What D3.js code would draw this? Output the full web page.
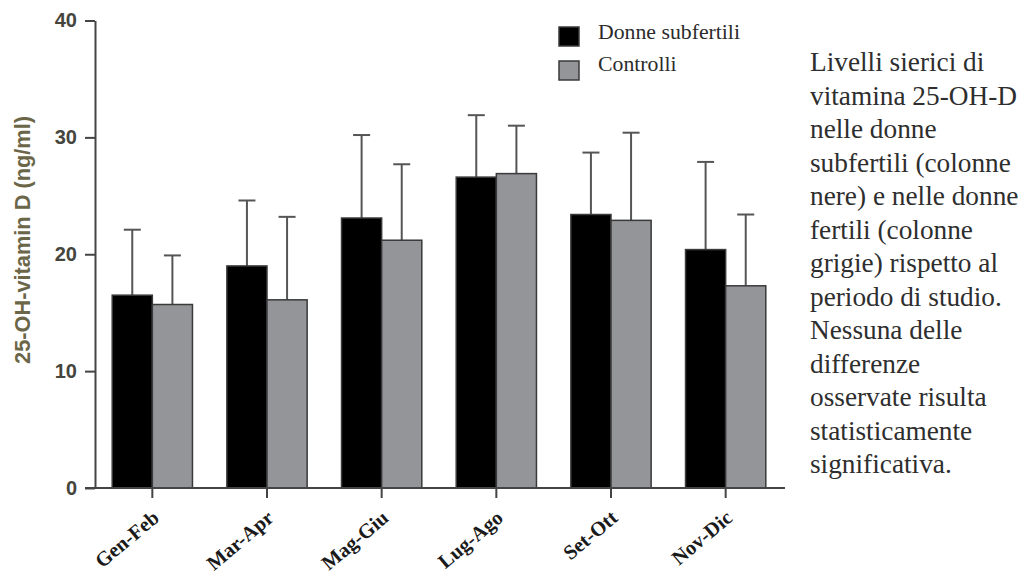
<!DOCTYPE html>
<html>
<head>
<meta charset="utf-8">
<script src="https://cdn.jsdelivr.net/npm/d3@7"></script>
<style>
  body { margin: 0; background: #ffffff; }
  svg { display: block; }
</style>
</head>
<body>
<svg id="chart" width="1023" height="574"></svg>
<script>
// Serum 25-OH vitamin D by two-month period: subfertile women vs controls (mean + SD)
const periods = ["Gen-Feb", "Mar-Apr", "Mag-Giu", "Lug-Ago", "Set-Ott", "Nov-Dic"];
const seriesNames = ["Donne subfertili", "Controlli"];
const subfertileMean = [16.5, 19.0, 23.1, 26.6, 23.4, 20.4];
const subfertileSD   = [5.6, 5.6, 7.1, 5.3, 5.3, 7.5];
const controlMean    = [15.7, 16.1, 21.2, 26.9, 22.9, 17.3];
const controlSD      = [4.2, 7.1, 6.5, 4.1, 7.5, 6.1];
const yTicks = [0, 10, 20, 30, 40];
const yTitle = "25-OH-vitamin D (ng/ml)";
const captionLines = [
  "Livelli sierici di",
  "vitamina 25-OH-D",
  "nelle donne",
  "subfertili (colonne",
  "nere) e nelle donne",
  "fertili (colonne",
  "grigie) rispetto al",
  "periodo di studio.",
  "Nessuna delle",
  "differenze",
  "osservate risulta",
  "statisticamente",
  "significativa."
];

const seriesFill = ["#000000", "#939598"];
const outline = "#3a3a3a";

const svg = d3.select("#chart");

// Scale text so that it spans a given width
function fitWidth(sel, target) {
  const base = parseFloat(sel.attr("font-size"));
  const w = sel.node().getComputedTextLength();
  sel.attr("font-size", (base * target / w).toFixed(2));
}

const rows = periods.map((p, i) => ({
  period: p,
  values: [
    { s: 0, mean: subfertileMean[i], sd: subfertileSD[i] },
    { s: 1, mean: controlMean[i], sd: controlSD[i] }
  ]
}));

const x0 = d3.scaleBand().domain(periods).range([95, 783])
  .paddingInner(0.3).paddingOuter(0.15);
const x1 = d3.scaleBand().domain([0, 1]).range([0, x0.bandwidth()]);
const y = d3.scaleLinear().domain([0, 40]).range([488, 20.5]);

const plot = svg.append("g");

const groups = plot.selectAll("g.group").data(rows).join("g")
  .attr("class", "group")
  .attr("transform", d => `translate(${x0(d.period)},0)`);

// error bars (mean to mean + SD)
const capHalf = 8.5;
groups.selectAll("line.err").data(d => d.values).join("line")
  .attr("class", "err")
  .attr("x1", d => x1(d.s) + x1.bandwidth() / 2)
  .attr("x2", d => x1(d.s) + x1.bandwidth() / 2)
  .attr("y1", d => y(d.mean))
  .attr("y2", d => y(d.mean + d.sd))
  .attr("stroke", "#555").attr("stroke-width", 2);
groups.selectAll("line.cap").data(d => d.values).join("line")
  .attr("class", "cap")
  .attr("x1", d => x1(d.s) + x1.bandwidth() / 2 - capHalf)
  .attr("x2", d => x1(d.s) + x1.bandwidth() / 2 + capHalf)
  .attr("y1", d => y(d.mean + d.sd))
  .attr("y2", d => y(d.mean + d.sd))
  .attr("stroke", "#555").attr("stroke-width", 2);

// bars
groups.selectAll("rect").data(d => d.values).join("rect")
  .attr("x", d => x1(d.s))
  .attr("width", x1.bandwidth())
  .attr("y", d => y(d.mean))
  .attr("height", d => y(0) - y(d.mean))
  .attr("fill", d => seriesFill[d.s])
  .attr("stroke", outline).attr("stroke-width", 1.5);

// y axis
const yAxis = svg.append("g")
  .attr("transform", `translate(95,0)`)
  .call(d3.axisLeft(y).tickValues(yTicks).tickSize(10).tickSizeOuter(0).tickPadding(8));
yAxis.select(".domain").attr("stroke", "#444").attr("stroke-width", 2);
yAxis.selectAll(".tick line").attr("stroke", "#444").attr("stroke-width", 2);
yAxis.selectAll(".tick text")
  .attr("font-family", "'Liberation Sans', Arial, sans-serif")
  .attr("font-weight", "bold").attr("font-size", 20)
  .attr("fill", "#45453d");

// x axis
const xAxis = svg.append("g")
  .attr("transform", `translate(0,${y(0)})`)
  .call(d3.axisBottom(x0).tickSize(10).tickSizeOuter(0).tickFormat(""));
xAxis.select(".domain").attr("stroke", "#444").attr("stroke-width", 2)
  .attr("d", `M85,0H785`);
xAxis.selectAll(".tick line").attr("stroke", "#444").attr("stroke-width", 2);

// rotated period labels
const xLabels = svg.append("g").selectAll("text").data(periods).join("text")
  .attr("transform", d => `translate(${x0(d) + x0.bandwidth() / 2 + 8},${y(0) + 32}) rotate(-40)`)
  .attr("text-anchor", "end")
  .attr("font-family", "'Liberation Serif', 'Times New Roman', serif")
  .attr("font-weight", "bold").attr("font-size", 16)
  .attr("fill", "#1a1a1a")
  .text(d => d);
fitWidth(xLabels.filter((d, i) => i === 0), 76);
xLabels.attr("font-size", xLabels.filter((d, i) => i === 0).attr("font-size"));

// y axis title
const yt = svg.append("text")
  .attr("transform", "translate(30,240) rotate(-90)")
  .attr("text-anchor", "middle")
  .attr("font-family", "'Liberation Sans', Arial, sans-serif")
  .attr("font-weight", "bold").attr("font-size", 18)
  .attr("fill", "#6b6648")
  .text(yTitle);
fitWidth(yt, 248);

// legend
const legend = svg.append("g");
seriesNames.forEach((name, i) => {
  legend.append("rect")
    .attr("x", 559).attr("y", 27 + i * 34)
    .attr("width", 20).attr("height", 19)
    .attr("fill", seriesFill[i])
    .attr("stroke", outline).attr("stroke-width", 1.5);
});
const legendText = legend.selectAll("text").data(seriesNames).join("text")
  .attr("x", 598).attr("y", (d, i) => 39 + i * 32)
  .attr("font-family", "'Liberation Serif', 'Times New Roman', serif")
  .attr("font-size", 18).attr("fill", "#2b2b2b")
  .text(d => d);
fitWidth(legendText.filter((d, i) => i === 0), 142);
legendText.attr("font-size", legendText.filter((d, i) => i === 0).attr("font-size"));

// caption
const caption = svg.append("g").selectAll("text").data(captionLines).join("text")
  .attr("x", 810).attr("y", (d, i) => 71 + i * 33.5)
  .attr("font-family", "'Liberation Serif', 'Times New Roman', serif")
  .attr("font-size", 24).attr("fill", "#2e2e2e")
  .text(d => d);
fitWidth(caption.filter((d, i) => i === 1), 207);
caption.attr("font-size", caption.filter((d, i) => i === 1).attr("font-size"));
</script>
</body>
</html>
